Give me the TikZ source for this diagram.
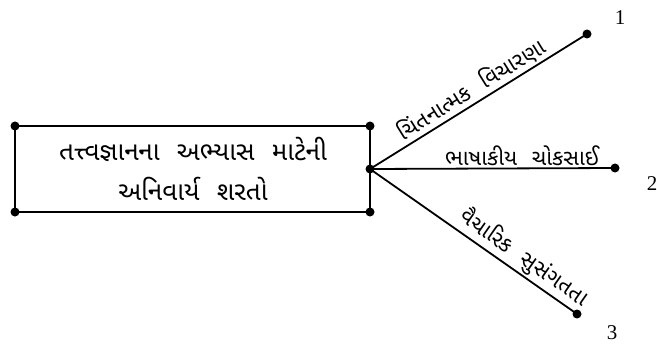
\documentclass[tikz,border=0pt]{standalone}
\usepackage{fontspec}
\setmainfont{Liberation Serif}
\newfontfamily\gujfont[Script=Gujarati,WordSpace=2.2]{Noto Sans Gujarati UI}

\begin{document}
\begin{tikzpicture}[x=1pt, y=-1pt, line width=1.8pt,
  guj/.style={font=\gujfont\fontsize{22}{40}\selectfont, inner sep=2pt},
  title/.style={font=\gujfont\fontsize{26}{40}\selectfont, align=center},
  num/.style={font=\fontsize{21}{21}\selectfont}]
  \useasboundingbox (0,0) rectangle (657,345);
  \coordinate (tl) at (15,126);
  \coordinate (tr) at (370,126);
  \coordinate (br) at (370,212);
  \coordinate (bl) at (15,212);
  \coordinate (hub) at (370,169);
  \coordinate (e1) at (587,34);
  \coordinate (e2) at (615,168);
  \coordinate (e3) at (577,314);
  \draw[line width=2.2pt] (tl) -- (tr) -- (br) -- (bl) -- cycle;
  \draw (193,169)node[title](head){તત્ત્વજ્ઞાનના અભ્યાસ માટેની\\અનિવાર્ય શરતો};
  \draw (hub) -- node[guj, sloped, above, pos=0.5](b1){ચિંતનાત્મક વિચારણા} (e1);
  \draw (hub) -- node[guj, above, pos=0.62](b2){ભાષાકીય ચોકસાઈ} (e2);
  \draw (hub) -- node[guj, sloped, above, pos=0.7](b3){વૈચારિક સુસંગતતા} (e3);
  \foreach \p in {tl,tr,br,bl,hub,e1,e2,e3}
    \fill (\p) circle (4.5pt);
  \draw (620,18)node[num](n1){1};
  \draw (652,184)node[num](n2){2};
  \draw (612,333)node[num](n3){3};
\end{tikzpicture}
\end{document}
